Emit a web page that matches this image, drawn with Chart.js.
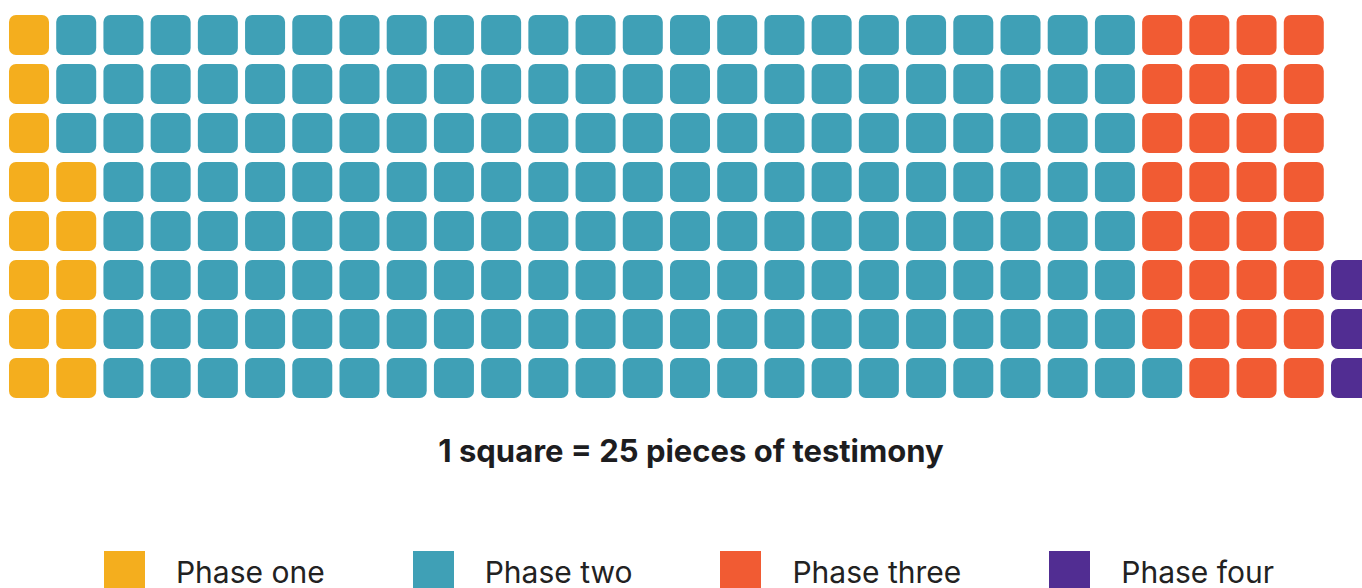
<!DOCTYPE html>
<html>
<head>
<meta charset="utf-8">
<title>Testimony by phase</title>
<script src="https://cdn.jsdelivr.net/npm/chart.js@4.4.0/dist/chart.umd.min.js"></script>
<style>
  html, body { margin: 0; padding: 0; background: #fff; width: 1362px; height: 588px; overflow: hidden; font-family: Inter, "Noto Sans", sans-serif; }
  #waffle { position: absolute; left: 0; top: 0; width: 1362px; height: 413px; }
  #caption { position: absolute; left: 10px; top: 435px; width: 1362px; text-align: center; font-size: 31px; line-height: 31px; font-weight: 700; color: #1d1d1f; }
  #legend { position: absolute; left: 8px; top: 551px; width: 1362px; display: flex; justify-content: center; gap: 88px; }
  .item { display: flex; align-items: center; gap: 31px; }
  .swatch { width: 41px; height: 41px; }
  .label { font-size: 30px; line-height: 30px; color: #222; }
</style>
</head>
<body>
<div id="waffle"><canvas id="chart"></canvas></div>
<div id="caption">1 square = 25 pieces of testimony</div>
<div id="legend"></div>

<script>
// data
const phaseLabels = ['Phase one', 'Phase two', 'Phase three', 'Phase four'];
const squareCounts = [13, 180, 31, 3];
const phaseColors = ['#F4AE1E', '#3FA0B6', '#F15B33', '#512D92'];
const rowCount = 8;

// squares fill column by column, bottom to top
const half = 20 / 49;
let idx = 0;
const datasets = phaseLabels.map((label, p) => {
  const points = [];
  for (let k = 0; k < squareCounts[p]; k++, idx++) {
    const col = Math.floor(idx / rowCount);
    const row = rowCount - 1 - (idx % rowCount);
    points.push({ x: col, y: [row - half, row + half] });
  }
  return {
    label: label,
    data: points,
    backgroundColor: phaseColors[p],
    borderWidth: 0,
    borderRadius: 7,
    borderSkipped: false,
    inflateAmount: 0,
    barThickness: 40,
    grouped: false
  };
});

// column pitch 47.2px, row pitch 49px
const colPitch = 1322 / 28;
const rowPitch = 49;

new Chart(document.getElementById('chart'), {
  type: 'bar',
  data: { datasets: datasets },
  options: {
    responsive: true,
    maintainAspectRatio: false,
    animation: false,
    events: [],
    layout: { padding: 0 },
    plugins: {
      legend: { display: false },
      title: { display: false },
      tooltip: { enabled: false }
    },
    scales: {
      x: {
        type: 'linear',
        display: false,
        offset: false,
        bounds: 'data',
        min: -29 / colPitch,
        max: (1362 - 29) / colPitch
      },
      y: {
        type: 'linear',
        display: false,
        reverse: true,
        bounds: 'data',
        beginAtZero: false,
        min: -35 / rowPitch,
        max: (413 - 35) / rowPitch
      }
    }
  }
});

// legend (html)
const legendEl = document.getElementById('legend');
phaseLabels.forEach((label, i) => {
  const item = document.createElement('div');
  item.className = 'item';
  const sw = document.createElement('div');
  sw.className = 'swatch';
  sw.style.background = phaseColors[i];
  const txt = document.createElement('span');
  txt.className = 'label';
  txt.textContent = label;
  item.appendChild(sw);
  item.appendChild(txt);
  legendEl.appendChild(item);
});
</script>
</body>
</html>
